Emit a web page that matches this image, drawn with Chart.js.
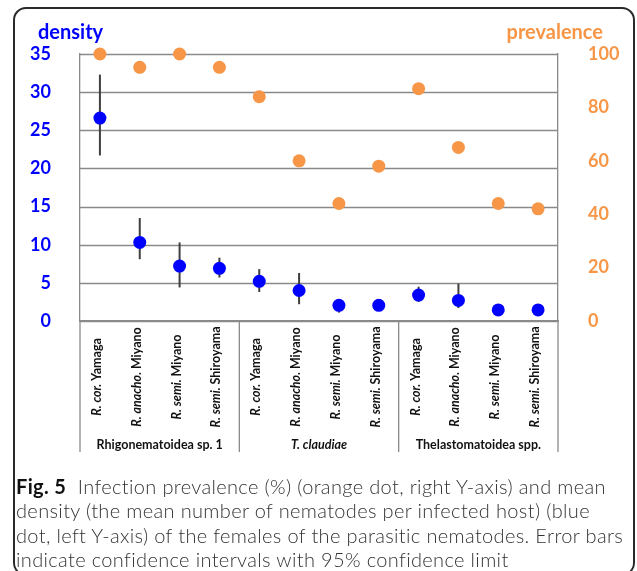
<!DOCTYPE html>
<html>
<head>
<meta charset="utf-8">
<script src="https://cdn.jsdelivr.net/npm/chart.js@4"></script>
<style>
  body { margin: 0; background: #fff; width: 637px; height: 571px; overflow: hidden; position: relative; }
  #wrap { position: absolute; left: 0; top: 0; width: 637px; height: 571px; }
  #caption { position: absolute; left: 16px; top: 474px; font-family: Lato, sans-serif; font-weight: 300; font-size: 20px; letter-spacing: 0.35px; line-height: 24.3px; color: #333; white-space: nowrap; }
  #caption b { color: #111; font-weight: 700; }
</style>
</head>
<body>
<div id="wrap"><canvas id="chart"></canvas></div>
<div id="caption"><b>Fig. 5</b>&nbsp; Infection prevalence (%) (orange dot, right Y-axis) and mean<br>density (the mean number of nematodes per infected host) (blue<br>dot, left Y-axis) of the females of the parasitic nematodes. Error bars<br>indicate confidence intervals with 95% confidence limit</div>
<script>
// categories: italic part + plain part of each label
const labelItalic = ['R. cor.', 'R. anacho.', 'R. semi.', 'R. semi.', 'R. cor.', 'R. anacho.', 'R. semi.', 'R. semi.', 'R. cor.', 'R. anacho.', 'R. semi.', 'R. semi.'];
const labelPlain = ['Yamaga', 'Miyano', 'Miyano', 'Shiroyama', 'Yamaga', 'Miyano', 'Miyano', 'Shiroyama', 'Yamaga', 'Miyano', 'Miyano', 'Shiroyama'];
const groups = ['Rhigonematoidea sp. 1', 'T. claudiae', 'Thelastomatoidea spp.'];
const groupItalic = [false, true, false];

// mean density (left axis) with 95% CI
const density = [26.6, 10.3, 7.2, 6.9, 5.2, 4.0, 2.05, 2.05, 3.4, 2.7, 1.45, 1.45];
const densityLow = [21.7, 8.1, 4.4, 5.7, 3.8, 2.2, 1.1, 1.6, 2.5, 1.7, 1.1, 1.1];
const densityHigh = [32.3, 13.5, 10.3, 8.3, 6.8, 6.3, 2.8, 2.5, 4.5, 4.9, 1.8, 1.8];

// prevalence % (right axis)
const prevalence = [100, 95, 100, 95, 84, 60, 44, 58, 87, 65, 44, 42];

const BLUE = '#0000ff';
const ORANGE = '#f79646';
const GRID = '#8a8a8a';

const categories = labelItalic.map((s, i) => s + ' ' + labelPlain[i]);

function frame(ctx, x0, y0, x1, y1, r) {
  ctx.beginPath();
  ctx.moveTo(x0 + r, y0);
  ctx.lineTo(x1 - r, y0);
  ctx.arcTo(x1, y0, x1, y0 + r, r);
  ctx.lineTo(x1, y1 - r);
  ctx.arcTo(x1, y1, x1 - r, y1, r);
  ctx.lineTo(x0 + r, y1);
  ctx.arcTo(x0, y1, x0, y1 - r, r);
  ctx.lineTo(x0, y0 + r);
  ctx.arcTo(x0, y0, x0 + r, y0, r);
  ctx.closePath();
  ctx.stroke();
}

const extras = {
  id: 'extras',
  beforeDatasetsDraw(chart) {
    const { ctx, chartArea, scales: { x, y } } = chart;
    ctx.save();
    // horizontal grid from the density ticks
    ctx.strokeStyle = GRID;
    ctx.lineWidth = 1.3;
    y.ticks.forEach(t => {
      const py = Math.round(y.getPixelForValue(t.value)) + 0.5;
      ctx.beginPath();
      ctx.moveTo(chartArea.left, py);
      ctx.lineTo(chartArea.right, py);
      ctx.stroke();
    });
    // error bars
    ctx.strokeStyle = '#3f3f3f';
    ctx.lineWidth = 2;
    densityLow.forEach((lo, i) => {
      const px = x.getPixelForValue(i);
      ctx.beginPath();
      ctx.moveTo(px, y.getPixelForValue(lo));
      ctx.lineTo(px, y.getPixelForValue(densityHigh[i]));
      ctx.stroke();
    });
    ctx.restore();
  },
  afterDraw(chart) {
    const { ctx, chartArea, width, height, scales: { x } } = chart;
    ctx.save();

    // rounded figure frame
    ctx.strokeStyle = '#2a2a2a';
    ctx.lineWidth = 2;
    frame(ctx, 14, 8, width - 3, height + 4, 12);

    // axis titles
    ctx.font = 'bold 20px Lato';
    ctx.textBaseline = 'middle';
    ctx.fillStyle = BLUE;
    ctx.textAlign = 'left';
    ctx.fillText('density', 38, 33);
    ctx.fillStyle = ORANGE;
    ctx.textAlign = 'right';
    ctx.fillText('prevalence', 603, 33);

    // rotated category labels
    ctx.fillStyle = '#111';
    categories.forEach((c, i) => {
      const px = x.getPixelForValue(i) - 3;
      ctx.save();
      ctx.translate(px, 377);
      ctx.rotate(-Math.PI / 2);
      ctx.textAlign = 'left';
      ctx.textBaseline = 'middle';
      const fi = 'italic bold 12.5px Lato';
      const fp = 'bold 12.5px Lato';
      ctx.font = fi;
      const wi = ctx.measureText(labelItalic[i] + ' ').width;
      ctx.font = fp;
      const wp = ctx.measureText(labelPlain[i]).width;
      const start = -(wi + wp) / 2;
      ctx.font = fi;
      ctx.fillText(labelItalic[i] + ' ', start, 0);
      ctx.font = fp;
      ctx.fillText(labelPlain[i], start + wi, 0);
      ctx.restore();
    });

    // group separators
    const mid = i => (x.getPixelForValue(i - 1) + x.getPixelForValue(i)) / 2;
    const bounds = [chartArea.left, mid(4), mid(8), chartArea.right];
    ctx.strokeStyle = GRID;
    ctx.lineWidth = 1.3;
    bounds.forEach(bx => {
      ctx.beginPath();
      ctx.moveTo(bx, chartArea.bottom);
      ctx.lineTo(bx, 452);
      ctx.stroke();
    });

    // group labels
    ctx.textAlign = 'center';
    ctx.textBaseline = 'middle';
    ctx.fillStyle = '#111';
    groups.forEach((g, i) => {
      ctx.font = (groupItalic[i] ? 'italic ' : '') + 'bold 12.5px Lato';
      ctx.fillText(g, (bounds[i] + bounds[i + 1]) / 2, 445);
    });
    ctx.restore();
  }
};

Chart.defaults.font.family = 'Lato';

new Chart(document.getElementById('chart'), {
  type: 'line',
  data: {
    labels: categories,
    datasets: [
      {
        label: 'prevalence',
        data: prevalence,
        yAxisID: 'y1',
        showLine: false,
        pointRadius: 6.5,
        pointBorderWidth: 0,
        pointBackgroundColor: ORANGE,
        clip: false
      },
      {
        label: 'density',
        data: density,
        yAxisID: 'y',
        showLine: false,
        pointRadius: 6.5,
        pointBorderWidth: 0,
        pointBackgroundColor: BLUE,
        clip: false
      }
    ]
  },
  options: {
    responsive: true,
    maintainAspectRatio: false,
    animation: false,
    layout: { padding: { top: 54, left: 0, right: 0, bottom: 0 } },
    plugins: { legend: { display: false }, tooltip: { enabled: false } },
    scales: {
      x: {
        offset: true,
        ticks: { display: false },
        grid: { display: false },
        border: { color: GRID, width: 1.3 },
        afterFit: s => { s.height = 250; }
      },
      y: {
        position: 'left',
        min: 0, max: 35,
        ticks: { stepSize: 5, padding: 21, color: BLUE, font: { size: 18, weight: 'bold' } },
        grid: { display: false },
        border: { color: GRID, width: 1.3 },
        afterFit: s => { s.width = 80; }
      },
      y1: {
        position: 'right',
        min: 0, max: 100,
        ticks: { stepSize: 20, padding: 22, color: ORANGE, font: { size: 18, weight: 'bold' } },
        grid: { display: false },
        border: { color: GRID, width: 1.3 },
        afterFit: s => { s.width = 79; }
      }
    }
  },
  plugins: [extras]
});
</script>
</body>
</html>
